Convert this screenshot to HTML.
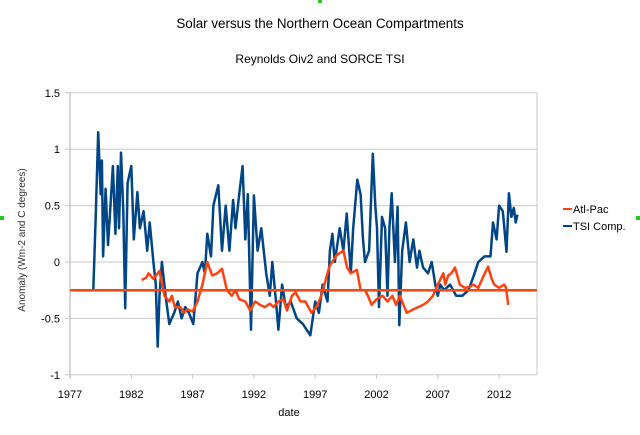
<!DOCTYPE html>
<html><head><meta charset="utf-8"><style>
body{margin:0;background:#fff;}
svg{display:block;font-family:"Liberation Sans",sans-serif;}
</style></head><body>
<svg id="chart" width="640" height="435" viewBox="0 0 640 435" xmlns="http://www.w3.org/2000/svg">
<rect x="0" y="0" width="640" height="435" fill="#fff"/>
<rect x="318" y="0" width="4" height="3" fill="#2c2"/>
<rect x="0" y="216" width="4" height="4" fill="#2c2"/>
<rect x="636" y="216" width="4" height="4" fill="#2c2"/>
<text x="320" y="28" text-anchor="middle" font-size="13.4" fill="#000">Solar versus the Northern Ocean Compartments</text>
<text x="320" y="63" text-anchor="middle" font-size="12" fill="#000">Reynolds Oiv2 and SORCE TSI</text>
<text transform="translate(25,240) rotate(-90)" text-anchor="middle" font-size="10" fill="#333">Anomaly (Wm-2 and C degrees)</text>
<text x="289" y="416" text-anchor="middle" font-size="11" fill="#000">date</text>
<g id="grid"></g>
<g id="ticks"></g>
<g id="series"></g>
<g>
<line x1="563" y1="209" x2="572" y2="209" stroke="#ff420e" stroke-width="2"/>
<text x="573" y="213" font-size="11" fill="#000">Atl-Pac</text>
<line x1="563" y1="226" x2="572" y2="226" stroke="#004586" stroke-width="2"/>
<text x="573" y="230" font-size="11" fill="#000">TSI Comp.</text>
</g>
</svg>
<script>
const xTicks = [1977,1982,1987,1992,1997,2002,2007,2012];
const yTicks = [1.5,1,0.5,0,-0.5,-1];
const baseline = -0.25;
const tsiYears = [1978.9,1979.1,1979.3,1979.5,1979.6,1979.7,1979.9,1980.1,1980.3,1980.5,1980.7,1980.9,1981.0,1981.16,1981.35,1981.5,1981.7,1982.0,1982.2,1982.5,1982.7,1983.0,1983.3,1983.5,1983.8,1984.0,1984.15,1984.3,1984.5,1984.8,1985.1,1985.5,1985.8,1986.1,1986.4,1986.7,1987.06,1987.4,1987.8,1988.0,1988.2,1988.5,1988.7,1989.1,1989.4,1989.7,1990.0,1990.3,1990.5,1990.8,1991.08,1991.3,1991.5,1991.76,1992.0,1992.3,1992.6,1993.0,1993.3,1993.5,1993.8,1994.0,1994.3,1994.6,1995.0,1995.5,1996.0,1996.3,1996.6,1997.0,1997.3,1997.6,1998.0,1998.2,1998.4,1998.6,1999.0,1999.3,1999.57,1999.9,2000.1,2000.43,2000.7,2000.9,2001.06,2001.4,2001.7,2001.9,2002.04,2002.2,2002.45,2002.7,2002.9,2003.05,2003.24,2003.5,2003.72,2003.86,2004.1,2004.4,2004.7,2005.0,2005.3,2005.5,2005.8,2006.2,2006.5,2006.8,2007.0,2007.2,2007.5,2008.0,2008.5,2009.0,2009.5,2009.9,2010.3,2010.8,2011.3,2011.5,2011.8,2012.0,2012.3,2012.6,2012.8,2013.0,2013.2,2013.35,2013.5];
const tsiValues = [-0.25,0.4,1.15,0.6,0.9,0.05,0.65,0.15,0.5,0.85,0.25,0.85,0.3,0.97,0.45,-0.41,0.7,0.85,0.2,0.62,0.3,0.45,0.1,0.35,0.0,-0.2,-0.75,-0.3,0.0,-0.3,-0.55,-0.45,-0.35,-0.5,-0.4,-0.45,-0.55,-0.1,0.0,-0.1,0.25,0.05,0.5,0.68,0.1,0.5,0.1,0.55,0.3,0.6,0.85,0.2,0.6,-0.6,0.59,0.1,0.3,-0.1,-0.3,0.0,-0.35,-0.6,-0.2,-0.4,-0.35,-0.5,-0.55,-0.6,-0.65,-0.35,-0.45,-0.2,-0.35,0.1,0.25,0.0,0.3,0.1,0.43,-0.1,0.3,0.73,0.6,0.2,0.0,0.1,0.96,0.5,0.3,-0.4,0.4,0.3,-0.3,0.3,0.61,0.0,0.49,-0.56,0.1,0.35,0.0,0.2,-0.05,0.1,-0.05,-0.1,0.0,-0.2,-0.3,-0.2,-0.25,-0.2,-0.3,-0.3,-0.25,-0.13,0.0,0.05,0.05,0.35,0.2,0.5,0.45,0.09,0.61,0.4,0.48,0.35,0.42];
const apYears = [1982.85,1983.2,1983.4,1983.8,1984.3,1984.7,1985.1,1985.3,1985.56,1986.0,1986.3,1986.6,1987.0,1987.4,1987.8,1988.2,1988.6,1989.0,1989.4,1989.8,1990.2,1990.5,1990.8,1991.3,1991.7,1992.1,1992.5,1992.9,1993.3,1993.6,1994.0,1994.4,1994.7,1995.1,1995.4,1995.8,1996.2,1996.7,1997.1,1997.5,1998.0,1998.2,1998.75,1999.3,1999.6,1999.9,2000.4,2000.7,2001.06,2001.3,2001.6,2002.0,2002.5,2002.9,2003.3,2003.6,2003.9,2004.46,2005.0,2005.4,2005.8,2006.2,2006.6,2007.0,2007.45,2007.6,2007.85,2008.1,2008.4,2008.8,2009.2,2009.6,2009.9,2010.3,2010.7,2011.1,2011.4,2011.6,2012.0,2012.4,2012.55,2012.75];
const apValues = [-0.16,-0.14,-0.1,-0.15,-0.08,-0.3,-0.35,-0.3,-0.4,-0.4,-0.45,-0.42,-0.44,-0.35,-0.2,0.0,-0.12,-0.1,-0.06,-0.25,-0.3,-0.25,-0.33,-0.35,-0.43,-0.35,-0.38,-0.4,-0.37,-0.4,-0.35,-0.33,-0.43,-0.3,-0.27,-0.35,-0.35,-0.45,-0.4,-0.3,-0.1,-0.03,0.06,0.1,-0.05,-0.1,-0.07,-0.25,-0.25,-0.3,-0.38,-0.33,-0.3,-0.35,-0.3,-0.38,-0.3,-0.45,-0.42,-0.4,-0.38,-0.35,-0.3,-0.2,-0.1,-0.2,-0.12,-0.1,-0.05,-0.2,-0.23,-0.22,-0.2,-0.23,-0.13,-0.04,-0.15,-0.2,-0.23,-0.2,-0.22,-0.38];

const X0=70, X1=537, Y0=262, PX_YEAR=12.26, PX_UNIT=112.8;
function xs(y){return X0+(y-1977)*PX_YEAR;}
function ys(v){return Y0-v*PX_UNIT;}
const NS='http://www.w3.org/2000/svg';
function mk(tag,attrs,parent){const e=document.createElementNS(NS,tag);for(const k in attrs)e.setAttribute(k,attrs[k]);parent.appendChild(e);return e;}
const grid=document.getElementById('grid'), ticks=document.getElementById('ticks'), series=document.getElementById('series');
yTicks.forEach(v=>{
  const l=mk('line',{x1:65,x2:X1,y1:ys(v),y2:ys(v),stroke:'#c8c8c8','stroke-width':1},grid);
  
  
  const t=mk('text',{x:60,y:ys(v)+4,'text-anchor':'end','font-size':11,fill:'#000'},ticks);
  t.textContent=String(v);
  
  
});
const ax=mk('line',{x1:X0,x2:X0,y1:ys(1.5),y2:ys(-1)+4,stroke:'#c8c8c8','stroke-width':1.5},grid);


const rb=mk('line',{x1:X1,x2:X1,y1:ys(1.5),y2:ys(-1),stroke:'#c8c8c8','stroke-width':1},grid);


xTicks.forEach(yr=>{
  const l=mk('line',{x1:xs(yr),x2:xs(yr),y1:ys(-1),y2:ys(-1)+4,stroke:'#c8c8c8','stroke-width':1},grid);
  
  
  const t=mk('text',{x:xs(yr),y:398,'text-anchor':'middle','font-size':11,fill:'#000'},ticks);
  t.textContent=String(yr);
  
  
});
function path(xa,va){return xa.map((y,i)=>(i?'L':'M')+xs(y).toFixed(1)+' '+ys(va[i]).toFixed(1)).join(' ');}
const tsi=mk('path',{d:path(tsiYears,tsiValues),fill:'none',stroke:'#004586','stroke-width':2.5,'stroke-linejoin':'round'},series);


const bl=mk('line',{x1:X0,x2:X1,y1:ys(baseline),y2:ys(baseline),stroke:'#ff420e','stroke-width':2.5},series);


const ap=mk('path',{d:path(apYears,apValues),fill:'none',stroke:'#ff420e','stroke-width':2.5,'stroke-linejoin':'round'},series);


</script>
</body></html>
